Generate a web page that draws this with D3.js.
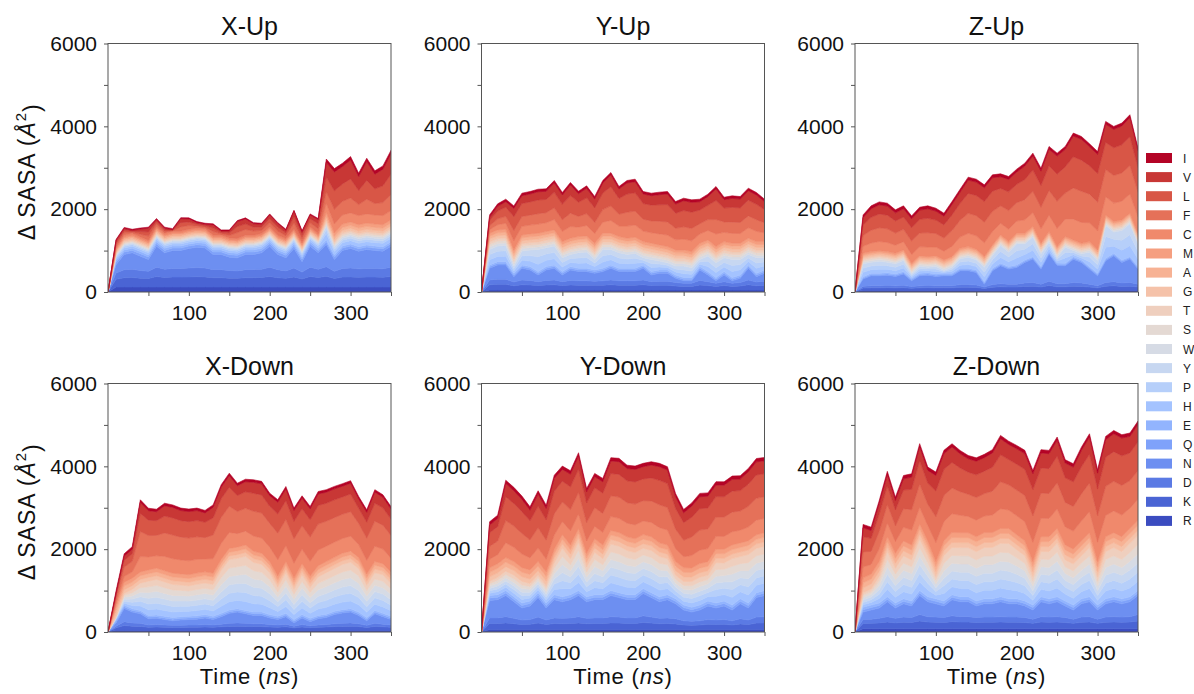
<!DOCTYPE html>
<html>
<head>
<meta charset="utf-8">
<script src="https://cdn.jsdelivr.net/npm/d3@7"></script>
<style>
  html, body { margin: 0; padding: 0; background: #ffffff; }
  svg { display: block; font-family: "Liberation Sans", Arial, Helvetica, sans-serif; }
</style>
</head>
<body>
<svg id="chart" width="1194" height="694"></svg>
<script>
// Residue types, stacked bottom (R) to top (I)
const residues = ["R","K","D","N","Q","E","H","P","Y","W","S","T","G","A","M","C","F","L","V","I"];
// Simulation time points (ns)
const times = [0,10,20,30,40,50,60,70,80,90,100,110,120,130,140,150,160,170,180,190,200,210,220,230,240,250,260,270,280,290,300,310,320,330,340,350];

const yMajorTicks = [0, 2000, 4000, 6000];
const yMinorTicks = [1000, 3000, 5000];
const xMajorTicks = [100, 200, 300];
const xMinorTicks = [50, 150, 250, 350];
const panelTitles = ["X-Up", "Y-Up", "Z-Up", "X-Down", "Y-Down", "Z-Down"];

// ΔSASA per residue type (Å²); one row per time point, columns follow `residues`
const xUp = [
  [0,0,0,0,0,0,0,0,0,0,0,0,0,0,0,0,0,0,0,0],
  [120,185,155,200,60,50,45,35,25,20,20,25,30,30,30,45,60,60,55,20],
  [120,225,195,365,60,50,50,40,30,25,25,30,35,35,35,50,60,55,50,25],
  [120,230,200,395,60,50,50,40,30,25,25,30,35,35,35,50,30,25,25,25],
  [120,215,185,345,60,50,50,40,30,25,25,30,35,35,35,50,65,65,60,25],
  [120,205,175,285,60,50,50,40,30,25,25,30,35,35,35,50,100,100,90,25],
  [120,255,225,505,60,50,50,40,30,25,25,30,35,35,35,50,65,60,55,25],
  [120,230,200,395,60,50,50,40,30,25,25,30,35,35,35,50,45,45,40,25],
  [120,240,210,430,60,50,50,40,30,25,25,30,35,35,35,50,15,15,10,25],
  [120,240,210,430,60,50,50,40,30,25,25,30,35,35,35,50,105,105,95,25],
  [120,245,215,470,60,50,50,40,30,25,25,30,35,35,35,50,90,85,75,25],
  [120,250,220,490,60,50,50,40,30,25,25,30,35,35,35,50,45,45,40,25],
  [120,245,215,485,60,50,50,40,30,25,25,30,35,35,35,50,35,35,35,25],
  [120,225,195,365,60,50,50,40,30,25,25,30,35,35,35,50,90,85,75,25],
  [120,225,195,365,60,50,50,40,30,25,25,30,35,35,35,50,35,35,35,25],
  [120,215,185,320,60,50,50,40,30,25,25,30,35,35,35,50,60,60,50,25],
  [120,210,180,315,60,50,50,40,30,25,25,30,35,35,35,50,145,145,120,25],
  [120,225,195,365,60,50,50,40,30,25,25,30,35,35,35,50,140,135,120,25],
  [120,225,195,365,60,50,50,40,30,25,25,30,35,35,35,50,100,95,85,25],
  [120,230,200,395,60,50,50,40,30,25,25,30,35,35,35,50,80,80,65,25],
  [120,255,225,505,60,50,50,40,30,25,25,30,35,35,35,50,100,100,90,25],
  [120,225,195,365,60,50,50,40,30,25,25,30,35,35,35,50,100,95,85,25],
  [120,210,180,315,60,50,50,40,30,25,25,30,35,35,35,50,70,70,60,25],
  [120,245,215,470,60,50,50,40,30,25,25,30,35,35,35,50,150,150,135,25],
  [120,195,165,250,60,50,50,40,30,25,25,30,35,35,35,50,90,90,80,25],
  [120,255,225,505,60,50,50,40,30,25,25,30,35,35,35,50,100,100,90,25],
  [120,230,200,395,60,50,50,40,30,25,25,30,35,35,35,50,120,120,100,25],
  [120,260,230,535,60,50,150,100,80,40,45,45,60,70,80,220,275,355,355,80],
  [120,205,175,285,60,50,80,60,50,40,45,45,60,70,80,220,350,450,455,80],
  [120,240,210,430,60,50,80,60,50,40,45,45,60,70,80,220,330,420,420,80],
  [120,245,215,470,60,50,80,60,50,40,45,45,60,70,80,220,360,460,460,80],
  [120,235,205,425,60,50,80,60,50,40,45,45,60,70,80,220,265,340,340,80],
  [120,240,210,455,60,50,80,60,50,40,45,45,60,70,80,220,355,455,455,80],
  [120,240,210,430,60,50,80,60,50,40,45,45,60,70,80,220,275,355,355,80],
  [120,235,205,425,60,50,80,60,50,40,45,45,60,70,80,220,315,405,400,80],
  [120,255,225,505,60,50,80,60,50,40,45,45,60,70,80,220,385,495,495,80]
];

const yUp = [
  [0,0,0,0,0,0,0,0,0,0,0,0,0,0,0,0,0,0,0,0],
  [50,125,115,283,40,40,125,125,126,60,60,60,70,70,70,85,95,125,78,60],
  [50,135,125,343,40,40,125,126,126,60,60,60,70,70,70,125,142,187,114,60],
  [50,135,125,343,40,40,130,131,131,60,60,60,70,70,70,147,166,220,133,60],
  [50,100,90,131,40,40,58,58,59,60,60,60,70,70,70,220,251,331,201,60],
  [50,125,115,283,40,40,111,112,112,60,60,60,70,70,70,209,237,313,189,60],
  [50,120,110,253,40,40,133,133,134,60,60,60,70,70,70,212,241,318,192,60],
  [50,105,95,162,40,40,179,179,179,60,60,60,70,70,70,220,251,331,201,60],
  [50,120,110,253,40,40,152,152,152,60,60,60,70,70,70,214,243,320,194,60],
  [50,125,115,283,40,40,152,152,153,60,60,60,70,70,70,249,283,374,226,60],
  [50,105,95,162,40,40,111,112,112,60,60,60,70,70,70,248,281,371,225,60],
  [50,120,110,253,40,40,98,98,99,60,60,60,70,70,70,283,322,424,257,60],
  [50,115,105,222,40,40,125,125,126,60,60,60,70,70,70,228,259,342,207,60],
  [50,115,105,222,40,40,130,131,131,60,60,60,70,70,70,253,287,379,230,60],
  [50,110,100,192,40,40,85,85,85,60,60,60,70,70,70,235,267,352,214,60],
  [50,115,105,222,40,40,152,152,153,60,60,60,70,70,70,267,303,400,243,60],
  [50,125,115,283,40,40,125,125,126,60,60,60,70,70,70,309,352,464,281,60],
  [50,115,105,222,40,40,125,125,126,60,60,60,70,70,70,253,287,379,230,60],
  [50,115,105,222,40,40,112,112,112,60,60,60,70,70,70,293,334,440,267,60],
  [50,115,105,222,40,40,120,120,120,60,60,60,70,70,70,295,336,443,268,60],
  [50,125,115,283,40,40,58,58,58,60,60,60,70,70,70,253,287,379,230,60],
  [50,105,95,162,40,40,98,98,99,60,60,60,70,70,70,253,287,379,230,60],
  [50,110,100,192,40,40,71,71,72,60,60,60,70,70,70,267,304,400,243,60],
  [50,110,100,192,40,40,58,58,58,60,60,60,70,70,70,279,318,419,254,60],
  [50,95,85,101,40,40,71,72,72,60,60,60,70,70,70,244,277,366,221,60],
  [50,85,75,60,40,40,92,92,92,60,60,60,70,70,70,262,297,392,238,60],
  [50,85,75,60,40,40,78,78,79,60,60,60,70,70,70,262,298,392,238,60],
  [50,120,110,253,40,40,58,58,58,60,60,60,70,70,70,221,251,331,201,60],
  [50,105,95,162,40,40,125,125,125,60,60,60,70,70,70,230,261,345,209,60],
  [50,85,75,60,40,40,118,119,119,60,60,60,70,70,70,306,348,459,278,60],
  [50,105,95,162,40,40,111,112,112,60,60,60,70,70,70,223,253,334,202,60],
  [50,85,75,60,40,40,145,146,146,60,60,60,70,70,70,238,271,358,217,60],
  [50,95,85,101,40,40,125,125,126,60,60,60,70,70,70,235,267,352,214,60],
  [50,125,115,283,40,40,85,85,85,60,60,60,70,70,70,253,287,379,230,60],
  [50,100,90,131,40,40,125,125,126,60,60,60,70,70,70,248,281,371,225,60],
  [50,110,100,192,40,40,98,98,99,60,60,60,70,70,70,212,241,318,193,60]
];

const zUp = [
  [0,0,0,0,0,0,0,0,0,0,0,0,0,0,0,0,0,0,0,0],
  [40,55,45,171,30,30,103,103,103,40,40,40,45,45,45,171,257,257,172,70],
  [40,60,50,241,30,30,89,90,90,40,40,40,45,45,45,207,310,311,207,70],
  [40,60,50,241,30,30,97,98,98,40,40,40,45,45,45,221,332,332,222,70],
  [40,65,55,247,30,30,84,84,85,40,40,40,45,45,45,220,330,330,219,70],
  [40,60,50,225,30,30,81,82,82,40,40,40,45,45,45,196,293,293,196,70],
  [40,65,55,272,30,30,89,90,90,40,40,40,45,45,45,199,298,298,199,70],
  [40,50,40,140,30,30,36,36,36,40,40,40,45,45,45,215,322,323,215,70],
  [40,60,50,241,30,30,54,55,55,40,40,40,45,45,45,221,332,332,222,70],
  [40,65,55,247,30,30,44,44,44,40,40,40,45,45,45,231,347,347,231,70],
  [40,60,50,225,30,30,60,60,60,40,40,40,45,45,45,217,325,325,216,70],
  [40,60,50,241,30,30,22,23,23,40,40,40,45,45,45,212,317,317,212,70],
  [40,60,50,241,30,30,49,49,50,40,40,40,45,45,45,252,378,378,252,70],
  [40,75,65,332,30,30,76,76,77,40,40,40,45,45,45,271,407,407,271,70],
  [40,75,65,332,30,30,89,90,90,40,40,40,45,45,45,321,482,482,322,70],
  [40,70,60,302,30,30,81,82,82,40,40,40,45,45,45,324,487,487,324,70],
  [40,45,35,70,30,30,116,116,117,40,40,40,45,45,45,333,499,499,332,70],
  [40,75,65,332,30,30,103,103,103,40,40,40,45,45,45,325,487,487,324,70],
  [40,85,75,433,30,30,143,143,144,40,40,40,45,45,45,281,422,421,281,70],
  [40,80,70,363,30,30,116,116,117,40,40,40,45,45,45,300,451,451,300,70],
  [40,80,70,403,30,30,170,170,171,40,40,40,45,45,45,295,443,443,296,70],
  [40,95,85,494,30,30,130,130,130,40,40,40,45,45,45,324,487,487,324,70],
  [40,100,90,564,30,30,157,157,157,40,40,40,45,45,45,341,511,511,340,70],
  [40,80,70,363,30,30,103,103,103,40,40,40,45,45,45,349,523,523,348,70],
  [40,115,105,655,30,30,76,76,77,40,40,40,45,45,45,397,596,595,397,70],
  [40,85,75,440,30,30,47,47,47,40,40,40,45,45,45,437,656,656,438,70],
  [40,85,75,433,30,30,130,130,130,40,40,40,45,45,45,421,632,632,421,70],
  [40,100,90,560,30,30,50,51,51,40,40,40,45,45,45,502,753,753,502,70],
  [40,95,85,494,30,30,49,49,50,40,40,40,45,45,45,502,753,752,502,70],
  [40,80,70,363,30,30,116,116,117,40,40,40,45,45,45,458,688,688,458,70],
  [40,60,50,241,30,30,103,103,104,40,40,40,45,45,45,461,692,692,462,70],
  [40,100,90,524,30,30,264,264,265,40,40,40,45,45,45,437,656,656,438,70],
  [40,110,100,625,30,30,170,170,171,40,40,40,45,45,45,445,668,668,446,70],
  [40,95,85,494,30,30,237,237,238,40,40,40,45,45,45,453,680,680,454,70],
  [40,100,90,564,30,30,264,264,265,40,40,40,45,45,45,462,692,692,462,70],
  [40,80,70,363,30,30,183,184,184,40,40,40,45,45,45,397,596,595,397,70]
];

const xDown = [
  [0,0,0,0,0,0,0,0,0,0,0,0,0,0,0,0,0,0,0,0],
  [40,60,40,80,40,40,13,13,13,13,13,13,90,90,90,64,104,75,47,60],
  [40,115,95,320,40,40,47,47,47,47,47,47,90,90,90,138,225,163,100,60],
  [40,100,80,260,40,40,78,78,78,78,78,78,90,90,90,155,253,183,112,60],
  [40,95,75,230,40,40,110,110,110,110,110,110,90,90,90,370,606,437,269,60],
  [40,75,55,150,40,40,138,138,138,138,138,138,90,90,90,315,515,372,228,60],
  [40,80,60,151,40,40,143,143,143,143,143,143,90,90,90,301,492,355,218,60],
  [40,75,55,130,40,40,138,138,138,138,138,138,90,90,90,346,566,408,251,60],
  [40,70,50,110,40,40,133,133,133,133,133,133,90,90,90,350,573,414,254,60],
  [40,70,50,130,40,40,127,127,127,127,127,127,90,90,90,337,551,398,244,60],
  [40,75,55,130,40,40,122,122,122,122,122,122,90,90,90,336,549,397,244,60],
  [40,75,55,140,40,40,127,127,127,127,127,127,90,90,90,332,544,393,241,60],
  [40,80,60,160,40,40,127,127,127,127,127,127,90,90,90,313,513,370,228,60],
  [40,75,55,130,40,40,128,128,128,128,128,128,90,90,90,350,573,414,254,60],
  [40,85,65,180,40,40,172,172,172,172,172,172,90,90,90,384,628,453,279,60],
  [40,95,75,240,40,40,203,203,203,203,203,203,90,90,90,387,633,457,280,60],
  [40,100,80,260,40,40,203,203,203,203,203,203,90,90,90,327,535,386,237,60],
  [40,95,75,230,40,40,218,218,218,218,218,218,90,90,90,337,551,398,245,60],
  [40,90,70,200,40,40,200,200,200,200,200,200,90,90,90,366,599,433,267,60],
  [40,90,70,200,40,40,192,192,192,192,192,192,90,90,90,369,603,436,267,60],
  [40,80,60,160,40,40,168,168,168,168,168,168,90,90,90,350,573,414,256,60],
  [40,75,55,130,40,40,117,117,117,117,117,117,90,90,90,392,642,463,285,60],
  [40,85,65,180,40,40,163,163,163,163,163,163,90,90,90,386,631,456,281,60],
  [40,60,40,80,40,40,122,122,122,122,122,122,90,90,90,359,587,424,260,60],
  [40,80,60,160,40,40,160,160,160,160,160,160,90,90,90,347,568,410,253,60],
  [40,65,45,100,40,40,125,125,125,125,125,125,90,90,90,357,584,421,259,60],
  [40,75,55,150,40,40,155,155,155,155,155,155,90,90,90,381,624,451,277,60],
  [40,80,60,170,40,40,167,167,167,167,167,167,90,90,90,368,603,435,268,60],
  [40,90,70,220,40,40,172,172,172,172,172,172,90,90,90,364,595,430,265,60],
  [40,95,75,250,40,40,182,182,182,182,182,182,90,90,90,356,583,421,259,60],
  [40,100,80,260,40,40,187,187,187,187,187,187,90,90,90,361,591,427,262,60],
  [40,90,70,200,40,40,175,175,175,175,175,175,90,90,90,311,508,367,226,60],
  [40,70,50,110,40,40,130,130,130,130,130,130,90,90,90,328,536,387,239,60],
  [40,95,75,230,40,40,152,152,152,152,152,152,90,90,90,368,603,435,268,60],
  [40,85,65,180,40,40,155,155,155,155,155,155,90,90,90,353,577,417,256,60],
  [40,75,55,130,40,40,133,133,133,133,133,133,90,90,90,335,548,395,243,60]
];

const yDown = [
  [0,0,0,0,0,0,0,0,0,0,0,0,0,0,0,0,0,0,0,0],
  [60,145,135,420,60,60,57,57,57,57,57,57,110,110,110,206,309,330,185,80],
  [60,145,135,440,60,60,70,70,70,70,70,70,110,110,110,218,327,349,197,80],
  [60,160,150,510,60,60,78,78,78,78,78,78,110,110,110,357,536,572,322,80],
  [60,140,130,400,60,60,87,87,87,87,87,87,110,110,110,342,513,547,308,80],
  [60,120,110,290,60,60,87,87,87,87,87,87,110,110,110,330,495,528,297,80],
  [60,125,115,330,60,60,70,70,70,70,70,70,110,110,110,289,433,462,259,80],
  [60,155,145,470,60,60,70,70,70,70,70,70,110,110,110,326,489,521,293,80],
  [60,120,110,290,60,60,70,70,70,70,70,70,110,110,110,307,460,491,275,80],
  [60,145,135,440,60,60,128,128,128,128,128,128,110,110,110,342,512,547,307,80],
  [60,140,130,400,60,60,195,195,195,195,195,195,110,110,110,315,473,504,284,80],
  [60,145,135,440,60,60,145,145,145,145,145,145,110,110,110,343,514,548,308,80],
  [60,160,150,510,60,60,195,195,195,195,195,195,110,110,110,350,524,559,315,80],
  [60,140,130,400,60,60,120,120,120,120,120,120,110,110,110,297,446,476,267,80],
  [60,145,135,440,60,60,170,170,170,170,170,170,110,110,110,300,450,480,269,80],
  [60,145,135,440,60,60,145,145,145,145,145,145,110,110,110,306,458,489,275,80],
  [60,160,150,510,60,60,187,187,187,187,187,187,110,110,110,335,503,537,302,80],
  [60,155,145,470,60,60,187,187,187,187,187,187,110,110,110,342,513,548,308,80],
  [60,145,135,440,60,60,178,178,178,178,178,178,110,110,110,330,495,528,297,80],
  [60,145,135,440,60,60,170,170,170,170,170,170,110,110,110,335,503,536,302,80],
  [60,170,160,540,60,60,162,162,162,162,162,162,110,110,110,328,492,525,295,80],
  [60,155,145,470,60,60,170,170,170,170,170,170,110,110,110,346,519,554,312,80],
  [60,140,130,400,60,60,162,162,162,162,162,162,110,110,110,368,552,589,331,80],
  [60,145,135,440,60,60,145,145,145,145,145,145,110,110,110,362,543,579,326,80],
  [60,135,125,360,60,60,95,95,95,95,95,95,110,110,110,313,470,501,281,80],
  [60,110,100,260,60,60,95,95,95,95,95,95,110,110,110,266,398,425,239,80],
  [60,105,95,220,60,60,103,103,103,103,103,103,110,110,110,298,447,476,268,80],
  [60,110,100,260,60,60,112,112,112,112,112,112,110,110,110,323,485,517,290,80],
  [60,125,115,330,60,60,103,103,103,103,103,103,110,110,110,316,474,506,285,80],
  [60,120,110,290,60,60,162,162,162,162,162,162,110,110,110,309,464,495,279,80],
  [60,125,115,330,60,60,153,153,153,153,153,153,110,110,110,309,464,495,279,80],
  [60,110,100,260,60,60,187,187,187,187,187,187,110,110,110,317,475,507,285,80],
  [60,135,125,360,60,60,170,170,170,170,170,170,110,110,110,308,463,493,278,80],
  [60,120,110,290,60,60,195,195,195,195,195,195,110,110,110,334,501,534,300,80],
  [60,155,145,470,60,60,178,178,178,178,178,178,110,110,110,352,528,564,317,80],
  [60,160,150,510,60,60,178,178,178,178,178,178,110,110,110,347,521,555,312,80]
];

const zDown = [
  [0,0,0,0,0,0,0,0,0,0,0,0,0,0,0,0,0,0,0,0],
  [80,125,95,180,60,60,57,57,57,57,57,57,120,120,120,267,365,364,219,80],
  [80,130,100,220,60,60,65,65,65,65,65,65,120,120,120,231,315,315,190,80],
  [80,140,110,250,60,60,107,107,107,107,107,107,120,120,120,307,419,419,251,80],
  [80,160,130,360,60,60,182,182,182,182,182,182,120,120,120,329,449,449,270,80],
  [80,140,110,250,60,60,140,140,140,140,140,140,120,120,120,281,383,383,229,80],
  [80,155,125,320,60,60,173,173,173,173,173,173,120,120,120,330,450,450,270,80],
  [80,150,120,280,60,60,165,165,165,165,165,165,120,120,120,361,492,492,295,80],
  [80,185,155,460,60,60,207,207,207,207,207,207,120,120,120,411,560,560,335,80],
  [80,160,130,360,60,60,165,165,165,165,165,165,120,120,120,374,511,511,306,80],
  [80,155,125,320,60,60,90,90,90,90,90,90,120,120,120,458,624,624,375,80],
  [80,150,120,280,60,60,182,182,182,182,182,182,120,120,120,463,632,632,378,80],
  [80,170,140,390,60,60,190,190,190,190,190,190,120,120,120,455,620,620,371,80],
  [80,160,130,360,60,60,198,198,198,198,198,198,120,120,120,419,572,571,343,80],
  [80,160,130,360,60,60,198,198,198,198,198,198,120,120,120,392,535,535,322,80],
  [80,150,120,280,60,60,198,198,198,198,198,198,120,120,120,402,548,548,329,80],
  [80,155,125,320,60,60,207,207,207,207,207,207,120,120,120,398,542,542,326,80],
  [80,155,125,320,60,60,207,207,207,207,207,207,120,120,120,423,576,576,346,80],
  [80,160,130,360,60,60,215,215,215,215,215,215,120,120,120,477,650,650,390,80],
  [80,155,125,320,60,60,223,223,223,223,223,223,120,120,120,447,609,609,365,80],
  [80,155,125,320,60,60,198,198,198,198,198,198,120,120,120,457,623,623,373,80],
  [80,150,120,280,60,60,182,182,182,182,182,182,120,120,120,463,632,632,378,80],
  [80,130,100,220,60,60,115,115,115,115,115,115,120,120,120,467,636,636,382,80],
  [80,160,130,360,60,60,182,182,182,182,182,182,120,120,120,445,606,606,364,80],
  [80,155,125,320,60,60,190,190,190,190,190,190,120,120,120,441,602,601,361,80],
  [80,160,130,360,60,60,215,215,215,215,215,215,120,120,120,468,638,638,383,80],
  [80,150,120,280,60,60,165,165,165,165,165,165,120,120,120,435,594,594,356,80],
  [80,130,100,220,60,60,165,165,165,165,165,165,120,120,120,436,595,595,356,80],
  [80,155,125,320,60,60,173,173,173,173,173,173,120,120,120,481,656,655,393,80],
  [80,160,130,360,60,60,198,198,198,198,198,198,120,120,120,508,692,692,416,80],
  [80,130,100,220,60,60,115,115,115,115,115,115,120,120,120,470,641,641,385,80],
  [80,155,125,320,60,60,190,190,190,190,190,190,120,120,120,515,703,703,422,80],
  [80,160,130,360,60,60,198,198,198,198,198,198,120,120,120,525,716,716,431,80],
  [80,155,125,320,60,60,190,190,190,190,190,190,120,120,120,524,715,715,429,80],
  [80,160,130,360,60,60,215,215,215,215,215,215,120,120,120,489,667,667,401,80],
  [80,185,155,460,60,60,223,223,223,223,223,223,120,120,120,509,694,694,417,80]
];

const panelData = [xUp, yUp, zUp, xDown, yDown, zDown];

// Diverging "cool-warm" colour ramp (Moreland), blue -> grey -> red
const coolwarmStops = [
  [59,76,192],[68,90,204],[77,104,215],[87,117,225],[98,130,234],[108,142,241],
  [119,154,247],[130,165,251],[141,176,254],[152,185,255],[163,194,255],[174,201,253],
  [184,208,249],[194,213,244],[204,217,238],[213,219,230],[221,221,221],[229,216,209],
  [236,211,197],[241,204,184],[245,196,172],[247,187,159],[247,177,147],[247,166,134],
  [244,154,123],[241,141,111],[236,127,99],[229,112,88],[222,96,77],[213,80,66],
  [203,62,56],[192,40,47],[180,4,38]
];
function coolwarm(t) {
  const n = coolwarmStops.length - 1;
  const p = Math.max(0, Math.min(1, t)) * n;
  const i = Math.min(Math.floor(p), n - 1);
  const f = p - i;
  const a = coolwarmStops[i], b = coolwarmStops[i + 1];
  return d3.rgb(a[0] + (b[0] - a[0]) * f, a[1] + (b[1] - a[1]) * f, a[2] + (b[2] - a[2]) * f).formatHex();
}
const colors = residues.map((r, i) => coolwarm(i / (residues.length - 1)));

// Panel geometry
const colLeft = [108, 481.5, 855];
const rowTop = [43.5, 383.5];
const plotW = 283;
const plotH = 248.5;

const svg = d3.select("#chart");
const keys = d3.range(residues.length);
const stack = d3.stack().keys(keys).value((row, k) => row[k]);

panelData.forEach((rows, p) => {
  const col = p % 3, row = Math.floor(p / 3);
  const g = svg.append("g").attr("transform", `translate(${colLeft[col]},${rowTop[row]})`);

  const x = d3.scaleLinear().domain([0, 350]).range([0, plotW]);
  const y = d3.scaleLinear().domain([0, 6000]).range([plotH, 0]);

  const clipId = "clip" + p;
  g.append("clipPath").attr("id", clipId)
    .append("rect").attr("width", plotW).attr("height", plotH);

  const area = d3.area()
    .x((d, i) => x(times[i]))
    .y0(d => y(d[0]))
    .y1(d => y(d[1]));

  const series = stack(rows);
  g.append("g").attr("clip-path", `url(#${clipId})`)
    .selectAll("path")
    .data(series)
    .join("path")
    .attr("d", area)
    .attr("fill", (d, i) => colors[i])
    .attr("stroke", (d, i) => colors[i])
    .attr("stroke-width", 0.6)
    .attr("stroke-linejoin", "round");

  // Axes
  const yAxis = d3.axisLeft(y)
    .tickValues(yMajorTicks.concat(yMinorTicks))
    .tickSize(4).tickPadding(7)
    .tickFormat(v => yMajorTicks.includes(v) ? String(v) : "");
  const gy = g.append("g").call(yAxis);

  const xAxis = d3.axisBottom(x)
    .tickValues(xMinorTicks.concat(xMajorTicks))
    .tickSize(4).tickPadding(9)
    .tickFormat(v => xMajorTicks.includes(v) ? String(v) : "");
  const gx = g.append("g").attr("transform", `translate(0,${plotH})`).call(xAxis);

  [gx, gy].forEach(ax => {
    ax.select(".domain").remove();
    ax.selectAll(".tick line").attr("stroke", "#555").attr("stroke-width", 1);
    ax.selectAll(".tick text")
      .attr("fill", "#111")
      .style("font-size", "21px")
      .style("font-family", '"Liberation Sans", Arial, sans-serif');
  });

  // Frame
  g.append("rect")
    .attr("width", plotW).attr("height", plotH)
    .attr("fill", "none").attr("stroke", "#555").attr("stroke-width", 1);

  // Title
  g.append("text")
    .attr("x", plotW / 2).attr("y", -8.5)
    .attr("text-anchor", "middle")
    .attr("fill", "#111")
    .style("font-size", "25px")
    .text(panelTitles[p]);

  // Y label on the first column
  if (col === 0) {
    const yl = g.append("text")
      .attr("transform", `translate(-73,${plotH / 2 + 4}) rotate(-90)`)
      .attr("text-anchor", "middle")
      .attr("fill", "#111")
      .style("font-size", "23px")
      .style("letter-spacing", "1px");
    yl.append("tspan").text("Δ SASA (");
    yl.append("tspan").style("font-style", "italic").text("Å");
    yl.append("tspan").attr("dy", "-0.6em").style("font-size", "15px").text("2");
    yl.append("tspan").attr("dy", "0.6em").text(")");
  }

  // X label on the bottom row
  if (row === 1) {
    const xl = g.append("text")
      .attr("x", plotW / 2).attr("y", plotH + 52)
      .attr("text-anchor", "middle")
      .attr("fill", "#111")
      .style("font-size", "22px")
      .style("letter-spacing", "0.8px");
    xl.append("tspan").text("Time (");
    xl.append("tspan").style("font-style", "italic").text("ns");
    xl.append("tspan").text(")");
  }
});

// Legend, top entry is the last residue
const legend = svg.append("g").attr("transform", "translate(1146,0)");
residues.forEach((r, i) => {
  const cy = 158 + (residues.length - 1 - i) * 19.1;
  legend.append("rect")
    .attr("x", 0).attr("y", cy - 5)
    .attr("width", 26).attr("height", 10)
    .attr("fill", colors[i]);
  legend.append("text")
    .attr("x", 37).attr("y", cy + 4.5)
    .attr("fill", "#222")
    .style("font-size", "12px")
    .text(r);
});
</script>
</body>
</html>
